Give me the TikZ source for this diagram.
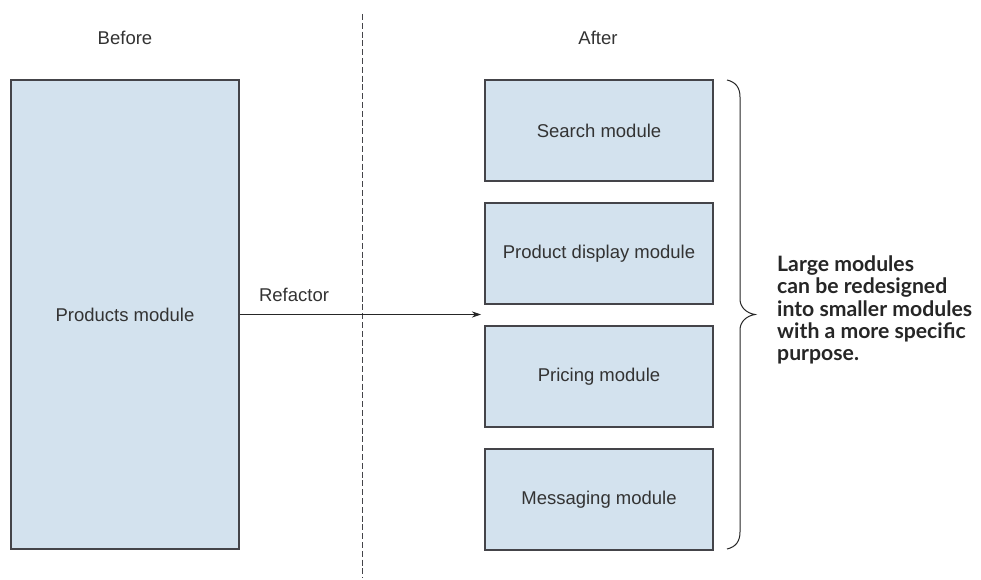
\documentclass[tikz,border=0pt]{standalone}
\usepackage{fontspec}
\setmainfont{Liberation Sans}
\newfontfamily\notefont{Lato}
\usetikzlibrary{arrows.meta}
\definecolor{boxfill}{HTML}{D3E2EE}
\definecolor{boxdraw}{HTML}{444449}
\definecolor{txt}{HTML}{333333}
\tikzset{
  modbox/.style={draw=boxdraw, line width=1.3pt, fill=boxfill, inner sep=0pt, text=txt, font=\fontsize{18.5}{22}\selectfont},
  lbl/.style={text=txt, font=\fontsize{18.5}{22}\selectfont, inner sep=0pt},
  conn/.style={draw=black!85, line width=0.9pt, -{Stealth[length=9pt,width=6pt]}},
}
\begin{document}
\begin{tikzpicture}[x=1pt,y=-1pt]
\useasboundingbox (0,0) rectangle (981,580);
\fill[white] (0,0) rectangle (981,580);
% headings
\node[lbl] (before) at (125,38) {Before};
\node[lbl] (after) at (598,38) {After};
% divider
\coordinate (dtop) at (362.5,14);
\coordinate (dbot) at (362.5,578);
\draw[boxdraw, line width=1pt, dash pattern=on 6pt off 2.8pt] (dtop) -- (dbot);
% big module
\node[modbox, minimum width=228pt, minimum height=469pt] (products) at (125,314.5) {Products module};
% small modules
\node[modbox, minimum width=228pt, minimum height=101pt] (search) at (599,130.5) {Search module};
\node[modbox, minimum width=228pt, minimum height=101pt] (display) at (599,253.5) {Product display module};
\node[modbox, minimum width=228pt, minimum height=101pt] (pricing) at (599,376.5) {Pricing module};
\node[modbox, minimum width=228pt, minimum height=101pt] (messaging) at (599,499.5) {Messaging module};
% arrow
\coordinate (arrend) at (481,314.5);
\draw[conn] (products.east) -- (arrend);
\node[lbl, anchor=base] (refactor) at (294,301) {Refactor};
% brace
\draw[black!85, line width=1pt] (727,80) .. controls (736,82) and (740,88) .. (740,97) -- (740,299)
  .. controls (740,307) and (746,313) .. (755,314.5)
  .. controls (746,316) and (740,322) .. (740,330) -- (740,532)
  .. controls (740,541) and (736,547) .. (727,549);
% note
\node[anchor=west, align=left, inner sep=0pt, text=black!85, font=\notefont\bfseries\fontsize{21.2}{22.4}\selectfont] (note) at (777,310) {Large modules\\can be redesigned\\into smaller modules\\with a more specific\\purpose.};
\end{tikzpicture}
\end{document}
